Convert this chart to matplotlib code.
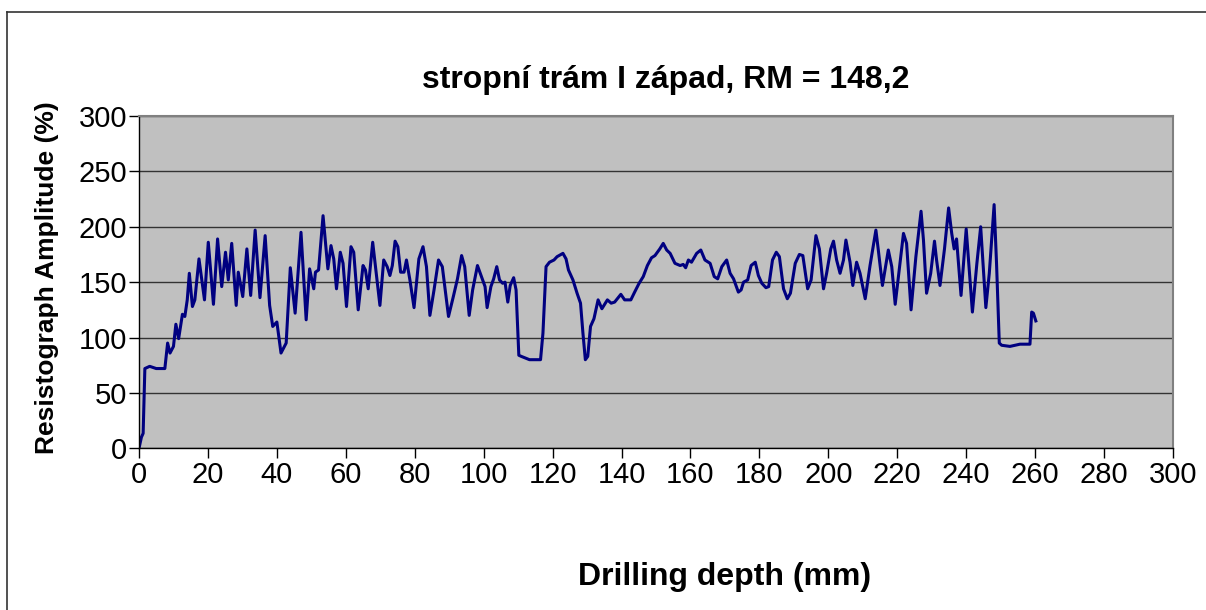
import matplotlib.pyplot as plt
from matplotlib.lines import Line2D

# Resistograph profile
depth = [0, 0.7, 1.2, 1.7, 3.1, 5, 6.5, 7.5, 8.3, 9, 10, 10.7, 11.5, 12.6, 13.3, 14, 14.6, 15.5,
         16.2, 17.4, 19, 20.1, 21.6, 22.8, 24, 25.1, 25.9, 26.9, 28.2, 28.8, 30.1, 31.3, 32.4,
         33.7, 35.1, 36.6, 37.9, 38.8, 40, 41.2, 42.7, 43.9, 45.3, 47, 48.5, 49.5, 50.7, 51.2,
         52.1, 53.4, 54.8, 55.7, 56.5, 57.3, 58.4, 59.2, 60.2, 61.5, 62.3, 63.6, 65, 65.7, 66.5,
         67.8, 69.9, 71, 72, 72.8, 73.5, 74.3, 75.1, 75.9, 76.9, 77.6, 78.6, 79.8, 81.2, 82.4,
         83.4, 84.4, 85.6, 86.9, 88, 89.8, 91.2, 92.4, 93.6, 94.5, 95.8, 96.8, 98.2, 99.7, 100.4,
         101, 102.1, 102.9, 103.8, 104.6, 105.5, 106.2, 107, 107.7, 108.7, 109.4, 110.2, 110.9,
         113.3, 115.2, 116.5, 117.2, 118.1, 119.1, 120.4, 121.3, 123, 123.9, 124.6, 125.9, 127.1,
         128.1, 128.8, 129.5, 130.2, 131, 132, 133.2, 134.3, 135.9, 137, 138, 139.8, 140.9, 142.7,
         143.8, 145.1, 146.3, 147.5, 148.7, 149.7, 151.1, 152.1, 153.1, 154.1, 155.5, 157, 157.9,
         158.6, 159.4, 160.3, 161.8, 163, 164.2, 165.7, 166.9, 167.9, 169.1, 170.5, 171.5, 172.5,
         173.9, 174.7, 175.4, 176.6, 177.6, 178.8, 179.7, 180.7, 181.9, 182.7, 183.8, 184.9,
         185.8, 187, 188.1, 189, 190.4, 191.6, 192.6, 194, 195, 196.4, 197.4, 198.6, 199.5,
         200.7, 201.5, 202.4, 203.4, 204.4, 205.1, 206.3, 207.1, 208.2, 209.2, 210.7, 212.1,
         213.8, 214.5, 215.7, 217.4, 218.4, 219.4, 220.6, 221.8, 222.7, 224, 225.4, 226.9, 227.6,
         228.5, 229.7, 230.8, 231.4, 232.4, 233.7, 234.9, 235.8, 236.5, 237.2, 238.5, 240, 241.8,
         243.1, 244.2, 245.7, 246.7, 248.1, 248.8, 249.6, 250.3, 252.7, 255.6, 258.5, 259, 259.5,
         260.2]
amplitude = [0, 10, 13.5, 72, 74, 72, 72, 72, 95, 86, 92, 112, 99, 121, 119, 134, 158, 128,
             134, 171, 134, 186, 130, 189, 146, 177, 152, 185, 129, 159, 137, 180, 138,
             197, 136, 192, 129, 110, 114, 86, 95, 163, 122, 195, 116, 162, 144, 159,
             161, 210, 162, 183, 171, 144, 177, 167, 128, 182, 177, 125, 165, 161, 144,
             186, 129, 170, 164, 156, 165, 187, 182, 159, 159, 170, 152, 127, 171, 182,
             164, 120, 143, 170, 164, 119, 137, 153, 174, 164, 120, 143, 165, 152, 146,
             127, 146, 153, 164, 152, 149, 150, 132, 147, 154, 143, 84, 83,
             80, 80, 80, 104, 164, 168, 170, 173, 176, 171, 161, 152, 140,
             131, 104, 80, 83, 110, 117, 134, 126, 134, 131, 132, 139, 134, 134,
             141, 149, 155, 165, 172, 174, 180, 185, 179, 176, 167, 165, 166,
             163, 170, 168, 176, 179, 170, 167, 155, 153, 164, 170, 158, 153,
             141, 143, 150, 152, 165, 168, 156, 149, 145, 146, 170, 177,
             173, 144, 135, 140, 167, 175, 174, 144, 152, 192, 180, 144, 158,
             180, 187, 170, 158, 170, 188, 168, 147, 168, 158, 135, 165,
             197, 179, 147, 179, 164, 130, 162, 194, 185, 125, 173, 214, 188,
             140, 158, 187, 170, 147, 180, 217, 194, 180, 189, 138, 198, 123,
             167, 200, 127, 158, 220, 167, 95, 93, 92, 94, 94, 123, 122,
             115]

x_ticks = list(range(0, 301, 20))
y_ticks = list(range(0, 301, 50))

plt.rcParams['font.family'] = ['Liberation Sans', 'DejaVu Sans']

fig = plt.figure(figsize=(12.06, 6.10), dpi=100)
ax = fig.add_axes([139 / 1206, 1 - 448.3 / 610, (1173 - 139) / 1206, (448.3 - 116) / 610])

ax.set_facecolor('#C0C0C0')
ax.plot(depth, amplitude, color='#000080', linewidth=2.2)

ax.set_xlim(0, 300)
ax.set_ylim(0, 300)
ax.set_xticks(x_ticks)
ax.set_yticks(y_ticks)
ax.tick_params(axis='both', labelsize=21, length=7, width=1, direction='out', color='black')
ax.tick_params(axis='y', pad=1.5)
ax.tick_params(axis='x', pad=2.5)
ax.grid(axis='y', color='#333333', linewidth=1)
ax.set_axisbelow(True)

for side in ['top', 'right']:
    ax.spines[side].set_color('#808080')
    ax.spines[side].set_linewidth(1.5)
for side in ['left', 'bottom']:
    ax.spines[side].set_color('black')
    ax.spines[side].set_linewidth(1)

fig.text(666 / 1206, 1 - 80 / 610, 'stropní trám I západ, RM = 148,2',
         ha='center', va='center', fontsize=23, fontweight='bold')
fig.text(725 / 1206, 1 - 577 / 610, 'Drilling depth (mm)',
         ha='center', va='center', fontsize=23, fontweight='bold')
fig.text(47 / 1206, 1 - 278 / 610, 'Resistograph Amplitude (%)',
         ha='center', va='center', rotation=90, fontsize=19, fontweight='bold')

# outer chart frame (top and left edges visible)
fig.add_artist(Line2D([7 / 1206, 1], [1 - 12 / 610, 1 - 12 / 610], color='#333333', linewidth=1.2))
fig.add_artist(Line2D([7 / 1206, 7 / 1206], [0, 1 - 12 / 610], color='#333333', linewidth=1.2))

fig.savefig('out.png', dpi=100)
